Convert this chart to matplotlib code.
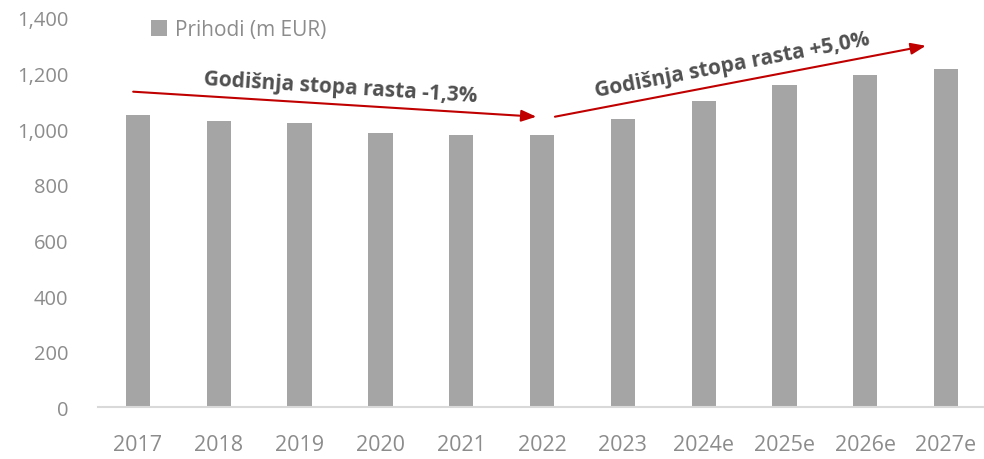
import matplotlib
matplotlib.use("Agg")
import matplotlib.pyplot as plt
from matplotlib.ticker import FuncFormatter, MultipleLocator

categories = ["2017", "2018", "2019", "2020", "2021", "2022", "2023", "2024e", "2025e", "2026e", "2027e"]
revenue = [1051, 1030, 1022, 987, 980, 980, 1037, 1102, 1159, 1195, 1216]
series_label = "Prihodi (m EUR)"
note_down = "Godišnja stopa rasta -1,3%"
note_up = "Godišnja stopa rasta +5,0%"

plt.rcParams['font.family'] = ['Open Sans', 'DejaVu Sans']

fig = plt.figure(figsize=(9.84, 4.60), dpi=100)
ax = fig.add_axes([0.0992, 0.1124, 0.9008, 0.8463])
x = list(range(len(categories)))
bars = ax.bar(x, revenue, width=0.30, color="#a5a5a5", label=series_label, zorder=2)

ax.set_xlim(-0.5, 10.47)
ax.set_ylim(0, 1400)
ax.yaxis.set_major_locator(MultipleLocator(200))
ax.yaxis.set_major_formatter(FuncFormatter(lambda v, p: f"{int(v):,}"))
ax.set_xticks(x)
ax.set_xticklabels(categories)
for s in ["top", "right", "left"]:
    ax.spines[s].set_visible(False)
ax.spines["bottom"].set_color("#d9d9d9")
ax.spines["bottom"].set_linewidth(1.5)
ax.tick_params(axis="y", length=0, colors="#8c8c8c", labelsize=14.5, pad=21)
ax.tick_params(axis="x", length=0, colors="#8c8c8c", labelsize=15.5, pad=19)

leg = ax.legend(loc="upper left", bbox_to_anchor=(0.039, 1.045), frameon=False,
                fontsize=15, handlelength=0.75, handleheight=0.75, handletextpad=0.4,
                labelcolor="#8c8c8c")

arrow_kw = dict(arrowstyle="-|>,head_length=0.9,head_width=0.35", color="#c00000", lw=1.5,
                shrinkA=0, shrinkB=0)
ax.annotate("", xy=(4.93, 1045), xytext=(-0.06, 1135), arrowprops=arrow_kw, annotation_clip=False)
ax.annotate("", xy=(9.75, 1300), xytext=(5.16, 1045), arrowprops=arrow_kw, annotation_clip=False)

ax.text(2.5, 1150, note_down, rotation=-3.6, ha="center", va="center", fontsize=15,
        fontweight="bold", color="#505050", rotation_mode="anchor")
ax.text(7.36, 1232, note_up, rotation=10.8, ha="center", va="center", fontsize=15,
        fontweight="bold", color="#505050", rotation_mode="anchor")

fig.savefig("out.png", dpi=100)
